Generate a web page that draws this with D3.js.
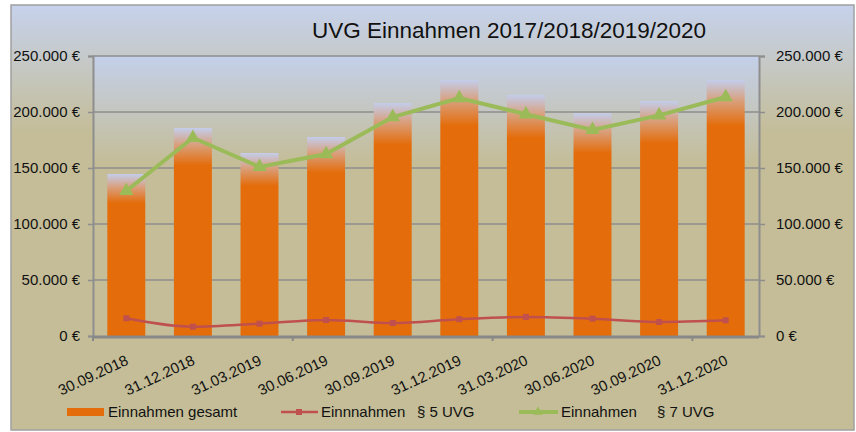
<!DOCTYPE html>
<html>
<head>
<meta charset="utf-8">
<script src="https://cdn.jsdelivr.net/npm/d3@7"></script>
<style>
  body { margin: 0; background: #fff; }
  text { font-family: "Liberation Sans", Arial, sans-serif; fill: #111; }
</style>
</head>
<body>
<div class="chart"></div>
<script>
const dates = ["30.09.2018", "31.12.2018", "31.03.2019", "30.06.2019", "30.09.2019",
               "31.12.2019", "31.03.2020", "30.06.2020", "30.09.2020", "31.12.2020"];
const gesamt = [144600, 185700, 163400, 177700, 208000, 228600, 215200, 199000, 209800, 228600];
const para5 = [15800, 8300, 11000, 14300, 11600, 15000, 17000, 15500, 12500, 14000];
const para7 = [129500, 177000, 151000, 162500, 195500, 212500, 198000, 184000, 197000, 213400];
const yTicks = [0, 50000, 100000, 150000, 200000, 250000];

const W = 856, H = 432;
const plot = {left: 93, right: 759, top: 56, bottom: 336};

const svg = d3.select(".chart").append("svg")
    .attr("width", W)
    .attr("height", H);

const defs = svg.append("defs");

// background gradients
const bgGrad = defs.append("linearGradient").attr("id", "bgGrad")
    .attr("x1", 0).attr("y1", 0).attr("x2", 0).attr("y2", 1);
bgGrad.append("stop").attr("offset", "0%").attr("stop-color", "#c6d2ec");
bgGrad.append("stop").attr("offset", "30%").attr("stop-color", "#c4bd98");
bgGrad.append("stop").attr("offset", "100%").attr("stop-color", "#c4bd97");

const plotGrad = defs.append("linearGradient").attr("id", "plotGrad")
    .attr("x1", 0).attr("y1", 0).attr("x2", 0).attr("y2", 1);
plotGrad.append("stop").attr("offset", "0%").attr("stop-color", "#c4d0ea");
plotGrad.append("stop").attr("offset", "38%").attr("stop-color", "#c4bd98");
plotGrad.append("stop").attr("offset", "100%").attr("stop-color", "#c4bd97");

const barGrad = defs.append("linearGradient").attr("id", "barGrad")
    .attr("x1", 0).attr("y1", 0).attr("x2", 0).attr("y2", 1);
barGrad.append("stop").attr("offset", "0%").attr("stop-color", "#c3cdeb");
barGrad.append("stop").attr("offset", "8%").attr("stop-color", "#d9a07e");
barGrad.append("stop").attr("offset", "18%").attr("stop-color", "#e46c0a");
barGrad.append("stop").attr("offset", "100%").attr("stop-color", "#e46c0a");

svg.append("rect")
    .attr("x", 11).attr("y", 5)
    .attr("width", 843).attr("height", 425)
    .attr("fill", "url(#bgGrad)")
    .attr("stroke", "#a0a0a0")
    .attr("stroke-width", 1.5);

svg.append("rect")
    .attr("x", plot.left).attr("y", plot.top)
    .attr("width", plot.right - plot.left).attr("height", plot.bottom - plot.top)
    .attr("fill", "url(#plotGrad)");

// scales
const x = d3.scaleBand()
    .domain(dates)
    .range([plot.left, plot.right])
    .paddingInner(0.43)
    .paddingOuter(0.215);

const y = d3.scaleLinear()
    .domain([0, 250000])
    .range([plot.bottom, plot.top]);

const fmt = v => d3.format(",")(v).replace(/,/g, ".") + " €";

// gridlines
svg.append("g").selectAll("line")
    .data(yTicks.filter(d => d > 0))
    .enter().append("line")
    .attr("x1", plot.left).attr("x2", plot.right)
    .attr("y1", d => y(d)).attr("y2", d => y(d))
    .attr("stroke", "#8e8e8e")
    .attr("stroke-width", 1.5);

// left axis
const leftAxis = svg.append("g")
    .attr("transform", "translate(" + plot.left + ",0)")
    .call(d3.axisLeft(y).tickValues(yTicks).tickFormat(fmt).tickSize(5).tickPadding(8));
leftAxis.select(".domain").attr("stroke", "#8e8e8e").attr("stroke-width", 2);
leftAxis.selectAll(".tick line").attr("stroke", "#8e8e8e").attr("stroke-width", 1.5);
leftAxis.selectAll("text").style("font-size", "15px").attr("fill", "#111")
    .style("font-family", "Liberation Sans, Arial, sans-serif");

// right axis
const rightAxis = svg.append("g")
    .attr("transform", "translate(" + plot.right + ",0)")
    .call(d3.axisRight(y).tickValues(yTicks).tickFormat(fmt).tickSize(6).tickPadding(11));
rightAxis.select(".domain").attr("stroke", "#8e8e8e").attr("stroke-width", 2);
rightAxis.selectAll(".tick line").attr("stroke", "#8e8e8e").attr("stroke-width", 1.5);
rightAxis.selectAll("text").style("font-size", "15px").attr("fill", "#111")
    .style("font-family", "Liberation Sans, Arial, sans-serif");

// bars
svg.append("g").selectAll("rect")
    .data(gesamt)
    .enter().append("rect")
    .attr("x", (d, i) => x(dates[i]))
    .attr("y", d => y(d))
    .attr("width", x.bandwidth())
    .attr("height", d => y(0) - y(d))
    .attr("fill", "url(#barGrad)");

// bottom axis
svg.append("line")
    .attr("x1", plot.left).attr("x2", plot.right)
    .attr("y1", plot.bottom + 1).attr("y2", plot.bottom + 1)
    .attr("stroke", "#888")
    .attr("stroke-width", 3);

// small ticks every third category boundary
svg.append("g").selectAll("line")
    .data(dates.filter((d, i) => i % 3 === 0))
    .enter().append("line")
    .attr("x1", d => x(d) - (x.step() - x.bandwidth()) / 2)
    .attr("x2", d => x(d) - (x.step() - x.bandwidth()) / 2)
    .attr("y1", plot.bottom).attr("y2", plot.bottom + 5)
    .attr("stroke", "#888")
    .attr("stroke-width", 2);

// x labels
svg.append("g").selectAll("text")
    .data(dates)
    .enter().append("text")
    .attr("transform", d => "translate(" + (x(d) + x.bandwidth() / 2 + 3) + "," + (plot.bottom + 28) + ") rotate(-25)")
    .attr("text-anchor", "end")
    .style("font-size", "15px")
    .text(d => d);

const cx = (d, i) => x(dates[i]) + x.bandwidth() / 2;

// § 5 line
svg.append("path")
    .datum(para5)
    .attr("fill", "none")
    .attr("stroke", "#c0504d")
    .attr("stroke-width", 2.5)
    .attr("d", d3.line().x(cx).y(d => y(d)).curve(d3.curveMonotoneX));

svg.append("g").selectAll("rect")
    .data(para5)
    .enter().append("rect")
    .attr("x", (d, i) => cx(d, i) - 3)
    .attr("y", d => y(d) - 3)
    .attr("width", 6).attr("height", 6)
    .attr("fill", "#c0504d");

// § 7 line
svg.append("path")
    .datum(para7)
    .attr("fill", "none")
    .attr("stroke", "#9bbb59")
    .attr("stroke-width", 4)
    .attr("d", d3.line().x(cx).y(d => y(d)));

const tri = d3.symbol().type(d3.symbolTriangle).size(90);
svg.append("g").selectAll("path")
    .data(para7)
    .enter().append("path")
    .attr("transform", (d, i) => "translate(" + cx(d, i) + "," + y(d) + ")")
    .attr("d", tri)
    .attr("fill", "#9bbb59");

// title
svg.append("text")
    .attr("x", 509).attr("y", 38)
    .attr("text-anchor", "middle")
    .style("font-size", "22.5px")
    .text("UVG Einnahmen 2017/2018/2019/2020");

// legend
const ly = 412;
const legend = svg.append("g").style("font-size", "15px");

legend.append("rect")
    .attr("x", 67).attr("y", ly - 4)
    .attr("width", 37).attr("height", 8)
    .attr("fill", "#e46c0a");
legend.append("text").attr("x", 108).attr("y", ly + 5).text("Einnahmen gesamt");

legend.append("line")
    .attr("x1", 281).attr("x2", 318).attr("y1", ly).attr("y2", ly)
    .attr("stroke", "#c0504d").attr("stroke-width", 2.5);
legend.append("rect")
    .attr("x", 296).attr("y", ly - 3).attr("width", 6).attr("height", 6)
    .attr("fill", "#c0504d");
legend.append("text").attr("x", 321).attr("y", ly + 5).text("Einnnahmen");
legend.append("text").attr("x", 417).attr("y", ly + 5).text("§ 5 UVG");

legend.append("line")
    .attr("x1", 519).attr("x2", 558).attr("y1", ly).attr("y2", ly)
    .attr("stroke", "#9bbb59").attr("stroke-width", 4);
legend.append("path")
    .attr("transform", "translate(538," + ly + ")")
    .attr("d", d3.symbol().type(d3.symbolTriangle).size(40))
    .attr("fill", "#9bbb59");
legend.append("text").attr("x", 561).attr("y", ly + 5).text("Einnahmen");
legend.append("text").attr("x", 657).attr("y", ly + 5).text("§ 7 UVG");
</script>
</body>
</html>
